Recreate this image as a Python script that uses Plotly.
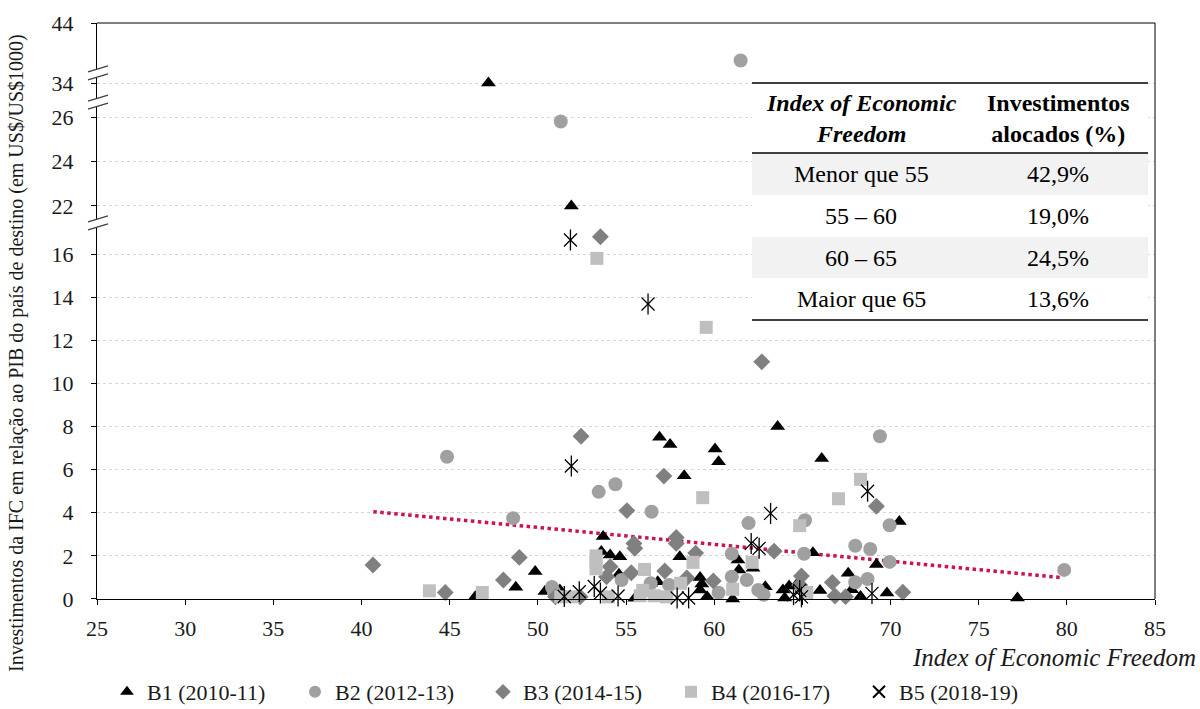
import plotly.graph_objects as go

# ---------------- data ----------------
b1_x = [47.2, 51.9, 56.9, 57.5, 60.05, 60.25, 58.3, 63.6, 66.1, 70.5, 53.7, 53.6, 54.1, 54.65,
        58.05, 61.35, 61.4, 62.2, 65.6, 67.6, 69.2, 59.2, 59.3, 59.2, 59.6, 56.8, 56.4, 54.6,
        55.5, 61.05, 62.9, 63.9, 64.25, 64.7, 64.0, 66.0, 67.8, 68.3, 69.8, 49.85, 48.75, 46.45,
        50.4, 51.25, 77.2]
b1_y = [34.0, 22.0, 7.5, 7.17, 6.96, 6.37, 5.72, 8.0, 6.52, 3.6, 2.9, 2.2, 2.04, 1.96,
        1.96, 1.81, 1.35, 1.43, 2.15, 1.2, 1.6, 1.0, 0.7, 0.42, 0.1, 0.8, 0.73, 1.15,
        0.03, 0.0, 0.57, 0.42, 0.6, 0.7, 0.05, 0.4, 0.43, 0.12, 0.28, 1.27, 0.55, 0.1,
        0.35, 0.42, 0.05]

b2_x = [61.5, 51.3, 44.85, 48.6, 53.45, 54.4, 56.45, 61.95, 65.15, 69.4, 69.95, 68.0, 68.85,
        69.95, 61.0, 65.1, 68.0, 68.7, 61.0, 61.85, 60.25, 62.5, 62.8, 54.75, 56.4, 57.45,
        50.8, 50.9, 79.85]
b2_y = [42.3, 25.8, 6.6, 3.75, 4.97, 5.32, 4.05, 3.52, 3.65, 7.55, 3.42, 2.47, 2.32,
        1.72, 2.1, 2.1, 0.78, 0.93, 1.03, 0.88, 0.29, 0.42, 0.2, 0.88, 0.73, 0.65,
        0.56, 0.35, 1.35]

b3_x = [53.55, 62.7, 40.65, 44.75, 48.05, 48.95, 52.45, 55.05, 55.45, 55.5, 54.1, 53.9, 55.3,
        57.15, 57.85, 57.85, 58.95, 57.2, 58.45, 59.95, 63.4, 64.95, 64.85, 66.7, 69.2, 66.85,
        67.45, 70.7, 51.0, 52.4]
b3_y = [16.8, 11.0, 1.58, 0.3, 0.88, 1.93, 7.55, 4.1, 2.58, 2.35, 1.5, 1.03, 1.22,
        5.7, 2.85, 2.58, 2.13, 1.3, 0.98, 0.84, 2.22, 1.07, 0.65, 0.77, 4.3, 0.14,
        0.11, 0.31, 0.1, 0.1]

b4_x = [53.35, 59.55, 59.35, 67.05, 68.3, 64.85, 62.15, 58.8, 56.05, 58.1, 61.05, 55.95, 56.6,
        55.8, 43.85, 46.85, 53.3, 53.3, 53.3, 52.0, 51.3, 65.25, 54.0, 57.3]
b4_y = [15.8, 12.6, 4.7, 4.65, 5.55, 3.4, 1.7, 1.7, 1.37, 0.73, 0.45, 0.4, 0.15,
        0.15, 0.38, 0.3, 2.0, 1.7, 1.4, 0.1, 0.1, 0.3, 0.1, 0.1]

b5_x = [51.85, 56.25, 51.9, 63.2, 68.7, 62.1, 62.55, 54.55, 57.9, 58.55, 64.85, 68.95, 51.5,
        52.35, 53.2, 53.55, 64.5, 64.95]
b5_y = [16.65, 13.68, 6.17, 3.97, 5.0, 2.58, 2.35, 0.14, 0.05, 0.05, 0.4, 0.26, 0.12,
        0.34, 0.58, 0.28, 0.2, 0.1]

trend_x = [40.67, 79.6]
trend_y = [4.05, 1.0]

series_names = ["B1 (2010-11)", "B2 (2012-13)", "B3 (2014-15)", "B4 (2016-17)", "B5 (2018-19)"]

x_ticks = [25, 30, 35, 40, 45, 50, 55, 60, 65, 70, 75, 80, 85]

table_header = ["<b><i>Index of Economic<br>Freedom</i></b>", "<b>Investimentos<br>alocados (%)</b>"]
table_ranges = ["Menor que 55", "55 – 60", "60 – 65", "Maior que 65"]
table_pct = ["42,9%", "19,0%", "24,5%", "13,6%"]

# ---------------- broken y-axis segments ----------------
segments = [
    dict(name="y", lo=0.0, hi=17.44, dom=[0.0, 0.6528], ticks=[0, 2, 4, 6, 8, 10, 12, 14, 16]),
    dict(name="y2", lo=21.236, hi=26.674, dom=[0.6528, 0.8628], ticks=[22, 24, 26]),
    dict(name="y3", lo=33.136, hi=34.455, dom=[0.8628, 0.9132], ticks=[34]),
    dict(name="y4", lo=41.73, hi=44.0, dom=[0.9132, 1.0], ticks=[44]),
]

FONT = "Liberation Serif"
TXT = "#1a1a1a"

styles = [
    dict(symbol="triangle-up", color="#000000", size=13),
    dict(symbol="circle", color="#a0a0a0", size=14),
    dict(symbol="diamond", color="#808080", size=13),
    dict(symbol="square", color="#bfbfbf", size=13),
    dict(symbol="x-thin-open", color="#000000", size=13),
]

all_x = [b1_x, b2_x, b3_x, b4_x, b5_x]
all_y = [b1_y, b2_y, b3_y, b4_y, b5_y]

fig = go.Figure()

# trend line (bottom segment)
fig.add_trace(go.Scatter(x=trend_x, y=trend_y, mode="lines", showlegend=False,
                         line=dict(color="#cc1448", width=3.5, dash="dot"),
                         xaxis="x", yaxis="y", hoverinfo="skip"))

for i, (xs, ys) in enumerate(zip(all_x, all_y)):
    st = styles[i]
    first = True
    for k, seg in enumerate(segments):
        last = k == len(segments) - 1
        sel = [(x, y) for x, y in zip(xs, ys)
               if seg["lo"] <= y and (y < seg["hi"] or (last and y <= seg["hi"]))]
        px = [p[0] for p in sel]
        py = [p[1] for p in sel]
        if not px and not first:
            continue
        if i == 4:
            marker = dict(symbol=st["symbol"], size=st["size"], color=st["color"],
                          line=dict(color=st["color"], width=1.3))
        else:
            marker = dict(symbol=st["symbol"], size=st["size"], color=st["color"], line=dict(width=0))
        fig.add_trace(go.Scatter(x=px, y=py, mode="markers", name=series_names[i],
                                 legendgroup=series_names[i], showlegend=first,
                                 marker=marker, cliponaxis=False,
                                 xaxis="x", yaxis=seg["name"]))
        if i == 4:
            fig.add_trace(go.Scatter(x=px, y=py, mode="markers", showlegend=False,
                                     legendgroup=series_names[i],
                                     marker=dict(symbol="line-ns-open", size=st["size"] + 2,
                                                 color="#000000",
                                                 line=dict(color="#000000", width=1.3)),
                                     cliponaxis=False, xaxis="x", yaxis=seg["name"],
                                     hoverinfo="skip"))
        first = False

# axes
axis_common = dict(showline=True, linecolor="#000000", linewidth=1, ticks="outside",
                   ticklen=5, tickcolor="#000000", zeroline=False,
                   tickfont=dict(family=FONT, size=22, color=TXT))
fig.update_layout(xaxis=dict(range=[25, 85], tickvals=x_ticks, showgrid=False, anchor="y",
                             ticklabelstandoff=5, **axis_common))
for seg in segments:
    key = "yaxis" if seg["name"] == "y" else "yaxis" + seg["name"][1:]
    fig.layout[key] = dict(domain=seg["dom"], range=[seg["lo"], seg["hi"]], tickvals=seg["ticks"],
                           anchor="x", showgrid=seg["name"] != "y4", gridcolor="#d6d6d6",
                           griddash="dot", gridwidth=1, ticklabelstandoff=13, **axis_common)

shapes = []
# frame top and right
shapes.append(dict(type="line", xref="paper", yref="paper", x0=0, x1=1, y0=1, y1=1,
                   line=dict(color="#000000", width=1)))
shapes.append(dict(type="line", xref="paper", yref="paper", x0=1, x1=1, y0=0, y1=1,
                   line=dict(color="#000000", width=1)))

# axis break marks
W, H = 1058.0, 576.0
for seg in segments[1:]:
    yb = seg["dom"][0]
    dx1, dx2 = -9 / W, 11 / W
    rise = 6 / H
    gap = 4 / H
    shapes.append(dict(type="path", xref="paper", yref="paper",
                       path=f"M {dx1},{yb - gap - rise/2} L {dx2},{yb - gap + rise/2} "
                            f"L {dx2},{yb + gap + rise/2} L {dx1},{yb + gap - rise/2} Z",
                       fillcolor="#ffffff", line=dict(width=0), layer="above"))
    for s in (-1, 1):
        shapes.append(dict(type="line", xref="paper", yref="paper",
                           x0=dx1, x1=dx2, y0=yb + s * gap - rise / 2, y1=yb + s * gap + rise / 2,
                           line=dict(color="#404040", width=1.3), layer="above"))

# table
def px_y(p):
    return (599 - p) / H

def px_x(p):
    return (p - 97) / W

tx0, tx1 = px_x(752), px_x(1148)
row_edges = [153, 195, 237, 278, 320]
shapes.append(dict(type="rect", xref="paper", yref="paper", x0=tx0, x1=tx1,
                   y0=px_y(320), y1=px_y(83), fillcolor="#ffffff", line=dict(width=0), layer="above"))
for r in (0, 2):
    shapes.append(dict(type="rect", xref="paper", yref="paper", x0=tx0, x1=tx1,
                       y0=px_y(row_edges[r + 1]), y1=px_y(row_edges[r]),
                       fillcolor="#f2f2f2", line=dict(width=0), layer="above"))
for ly in (83, 153, 320):
    shapes.append(dict(type="line", xref="paper", yref="paper", x0=tx0, x1=tx1,
                       y0=px_y(ly), y1=px_y(ly), line=dict(color="#404040", width=2), layer="above"))

annotations = []
c1, c2 = px_x(861), px_x(1058)
tfont = dict(family=FONT, size=24, color="#000000")
annotations.append(dict(x=c1, y=px_y(119), xref="paper", yref="paper", text=table_header[0],
                        showarrow=False, font=tfont, xanchor="center", yanchor="middle"))
annotations.append(dict(x=c2, y=px_y(119), xref="paper", yref="paper", text=table_header[1],
                        showarrow=False, font=tfont, xanchor="center", yanchor="middle"))
for r, (a, b) in enumerate(zip(table_ranges, table_pct)):
    yc = px_y((row_edges[r] + row_edges[r + 1]) / 2)
    annotations.append(dict(x=c1, y=yc, xref="paper", yref="paper", text=a, showarrow=False,
                            font=tfont, xanchor="center", yanchor="middle"))
    annotations.append(dict(x=c2, y=yc, xref="paper", yref="paper", text=b, showarrow=False,
                            font=tfont, xanchor="center", yanchor="middle"))

# axis titles
annotations.append(dict(x=px_x(1198), y=px_y(657), xref="paper", yref="paper",
                        text="<i>Index of Economic Freedom</i>", showarrow=False,
                        font=dict(family=FONT, size=25, color=TXT), xanchor="right", yanchor="middle"))
annotations.append(dict(x=px_x(16), y=px_y(353), xref="paper", yref="paper",
                        text="Investimentos da IFC em relação ao PIB do país de destino (em US$/US$1000)",
                        showarrow=False, textangle=-90,
                        font=dict(family=FONT, size=20, color=TXT), xanchor="center", yanchor="middle"))

fig.update_layout(
    width=1200, height=709,
    margin=dict(l=97, r=45, t=23, b=110, autoexpand=False),
    paper_bgcolor="#ffffff", plot_bgcolor="#ffffff",
    shapes=shapes, annotations=annotations,
    showlegend=True,
    legend=dict(orientation="h", x=px_x(107), xanchor="left", y=px_y(692), yanchor="middle",
                font=dict(family=FONT, size=22, color=TXT), entrywidth=143, entrywidthmode="pixels",
                traceorder="normal", itemsizing="constant"),
    font=dict(family=FONT, color=TXT),
)

fig.write_html("out.html")
